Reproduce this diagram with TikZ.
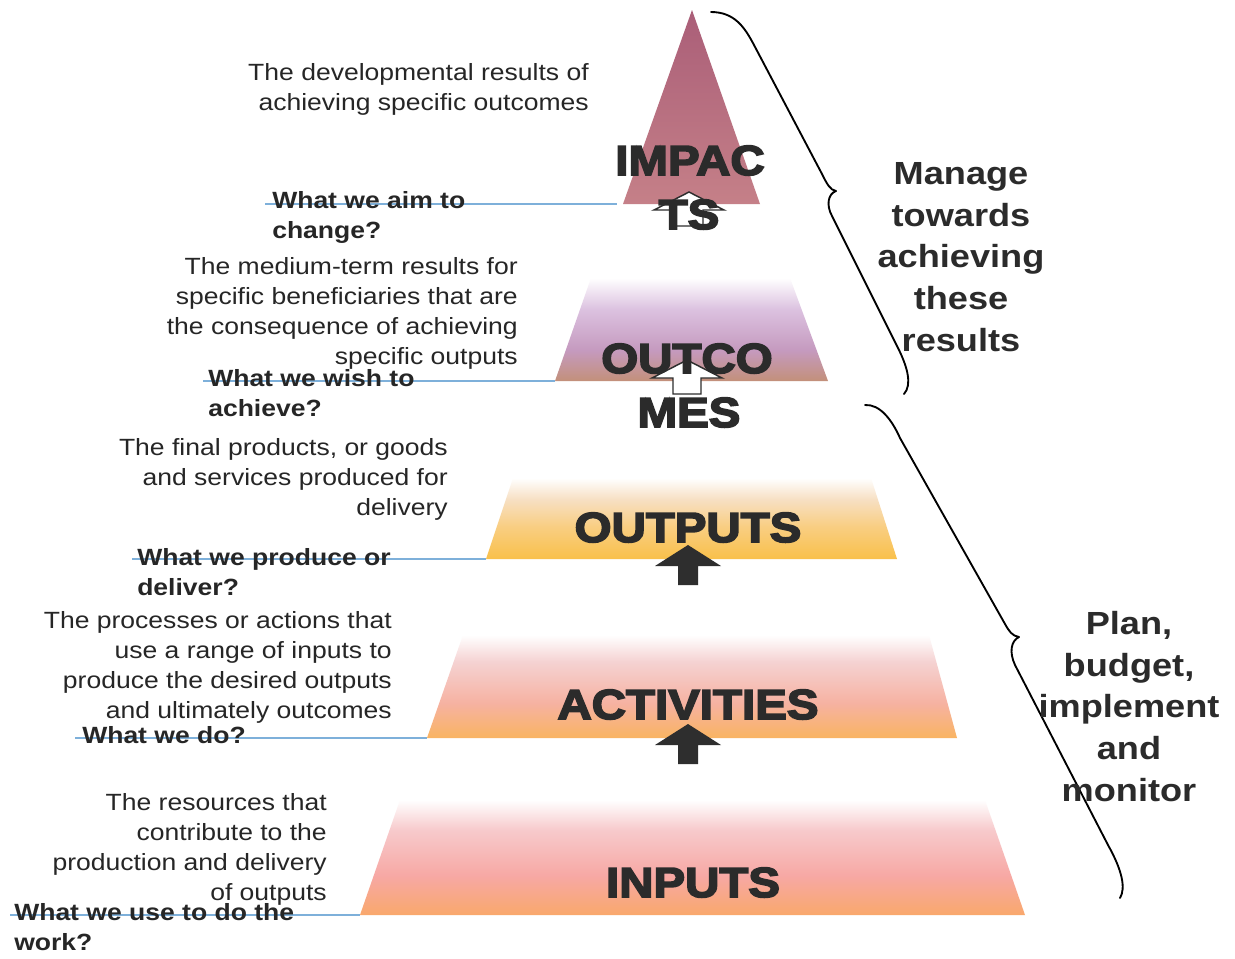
\documentclass[tikz,border=0pt]{standalone}
\usepackage{fontspec}
\setmainfont{Liberation Sans}[FakeStretch=1.13]
\newfontface\heavyfont{Liberation Sans Bold}[FakeStretch=1.13, FakeBold=4]
\definecolor{txt}{HTML}{262626}
\definecolor{heavytxt}{HTML}{2B2B2B}
\definecolor{qline}{HTML}{7EB0DA}
\definecolor{arrowdark}{HTML}{2E2E2E}
\definecolor{impB}{HTML}{C58088}
\definecolor{impT}{HTML}{AA5E78}
\definecolor{ocB}{HTML}{C3907A}
\definecolor{ocM}{HTML}{C59ABF}
\definecolor{ocU}{HTML}{DCC2E0}
\definecolor{opB}{HTML}{F9C04A}
\definecolor{opM}{HTML}{F9CE82}
\definecolor{opU}{HTML}{F7E0C4}
\definecolor{acB}{HTML}{F9B462}
\definecolor{acM}{HTML}{F6B2A2}
\definecolor{acU}{HTML}{F5D2D2}
\definecolor{inB}{HTML}{F9A86C}
\definecolor{inM}{HTML}{F7A8A4}
\definecolor{inU}{HTML}{F7CACC}
\pgfdeclareverticalshading{shImpact}{100bp}{color(0bp)=(impB); color(25bp)=(impB); color(75bp)=(impT); color(100bp)=(impT)}
\pgfdeclareverticalshading{shOutcomes}{100bp}{color(0bp)=(ocB); color(25bp)=(ocB); color(40bp)=(ocM); color(60bp)=(ocU); color(75bp)=(white); color(100bp)=(white)}
\pgfdeclareverticalshading{shOutputs}{100bp}{color(0bp)=(opB); color(25bp)=(opB); color(45bp)=(opM); color(62bp)=(opU); color(75bp)=(white); color(100bp)=(white)}
\pgfdeclareverticalshading{shActivities}{100bp}{color(0bp)=(acB); color(25bp)=(acB); color(42bp)=(acM); color(62bp)=(acU); color(75bp)=(white); color(100bp)=(white)}
\pgfdeclareverticalshading{shInputs}{100bp}{color(0bp)=(inB); color(25bp)=(inB); color(42bp)=(inM); color(62bp)=(inU); color(75bp)=(white); color(100bp)=(white)}
\tikzset{
  desc/.style={font=\fontsize{17.6pt}{22.5pt}\selectfont, text=txt, align=right, inner sep=0pt, anchor=north east},
  quest/.style={font=\bfseries\fontsize{17.6pt}{23pt}\selectfont, text=txt, align=left, inner sep=0pt, anchor=north west},
  biglabel/.style={font=\heavyfont\fontsize{31.5pt}{36pt}\selectfont, text=heavytxt, inner sep=0pt, anchor=base},
  sidelabel/.style={font=\bfseries\fontsize{24pt}{31.3pt}\selectfont, text=heavytxt, align=center, inner sep=0pt, anchor=north},
  qconn/.style={draw=qline, line width=1.1pt},
  bracestyle/.style={draw=black, line width=1.4pt, line cap=round, line join=round},
  blackarrow/.pic={\fill[arrowdark] (0,0) -- (33,21) -- (10,21) -- (10,40) -- (-10,40) -- (-10,21) -- (-33,21) -- cycle;},
  whitearrow/.pic={\filldraw[fill=white, draw=arrowdark, line width=1.1pt, line join=miter] (0,0) -- (35,18) -- (14,18) -- (14,34) -- (-14,34) -- (-14,18) -- (-35,18) -- cycle;}
}
\begin{document}
\begin{tikzpicture}[x=0.75pt, y=-0.75pt]
\useasboundingbox[fill=white] (0,0) rectangle (1235,958);

% pyramid layer corners
\coordinate (impA) at (692,10);
\coordinate (impBL) at (623,204);
\coordinate (impBR) at (760,204);
\coordinate (ocTL) at (591,278);
\coordinate (ocTR) at (790,278);
\coordinate (ocBL) at (555,381);
\coordinate (ocBR) at (828,381);
\coordinate (opTL) at (513,478);
\coordinate (opTR) at (871,478);
\coordinate (opBL) at (486,559);
\coordinate (opBR) at (897,559);
\coordinate (acTL) at (463,635);
\coordinate (acTR) at (929,635);
\coordinate (acBL) at (427,738);
\coordinate (acBR) at (957,738);
\coordinate (inTL) at (400,800);
\coordinate (inTR) at (985,800);
\coordinate (inBL) at (360,915);
\coordinate (inBR) at (1025,915);

\shade[shading=shImpact] (impA) -- (impBR) -- (impBL) -- cycle;
\shade[shading=shOutcomes] (ocTL) -- (ocTR) -- (ocBR) -- (ocBL) -- cycle;
\shade[shading=shOutputs] (opTL) -- (opTR) -- (opBR) -- (opBL) -- cycle;
\shade[shading=shActivities] (acTL) -- (acTR) -- (acBR) -- (acBL) -- cycle;
\shade[shading=shInputs] (inTL) -- (inTR) -- (inBR) -- (inBL) -- cycle;

% question connectors
\coordinate (q1s) at (265,204);
\coordinate (q1e) at (617,204);
\coordinate (q2s) at (203,381);
\coordinate (q3s) at (132,559);
\coordinate (q4s) at (75,738);
\coordinate (q5s) at (10,915);
\draw[qconn] (q1s) -- (q1e);
\draw[qconn] (q2s) -- (ocBL);
\draw[qconn] (q3s) -- (opBL);
\draw[qconn] (q4s) -- (acBL);
\draw[qconn] (q5s) -- (inBL);

% layer labels and arrows
\node[biglabel] (impact1) at (690,175) {IMPAC};
\pic at (689,192) {whitearrow};
\node[biglabel] (impact2) at (689,229) {TS};
\pic at (687,360) {whitearrow};
\node[biglabel] (outco1) at (687,373) {OUTCO};
\node[biglabel] (outco2) at (689,427) {MES};
\node[biglabel] (outputs) at (688,542) {OUTPUTS};
\pic at (688,545) {blackarrow};
\node[biglabel] (activities) at (688,719) {ACTIVITIES};
\pic at (688,724) {blackarrow};
\node[biglabel] (inputs) at (693,897) {INPUTS};

% descriptions
\node[desc] (d1) at (589,63) {The developmental results of\\achieving specific outcomes};
\node[desc] (d2) at (518,257) {The medium-term results for\\specific beneficiaries that are\\the consequence of achieving\\specific outputs};
\node[desc] (d3) at (448,438) {The final products, or goods\\and services produced for\\delivery};
\node[desc] (d4) at (392,611) {The processes or actions that\\use a range of inputs to\\produce the desired outputs\\and ultimately outcomes};
\node[desc] (d5) at (327,793) {The resources that\\contribute to the\\production and delivery\\of outputs};

% questions
\node[quest] (q1) at (272,191) {What we aim to\\change?};
\node[quest] (q2) at (208,369) {What we wish to\\achieve?};
\node[quest] (q3) at (137,548) {What we produce or\\deliver?};
\node[quest] (q4) at (82,726) {What we do?};
\node[quest] (q5) at (14,903) {What we use to do the\\work?};

% braces
\draw[bracestyle] (711,12) .. controls (735,12) and (745,28) .. (754,45) -- (822,174) .. controls (827,184) and (830,190) .. (836,191) .. controls (828,194) and (826,205) .. (832,216) -- (898,348) .. controls (908,368) and (912,385) .. (904,394);
\draw[bracestyle] (865,405) .. controls (880,404) and (892,420) .. (900,438) -- (1005,624) .. controls (1009,631) and (1012,636) .. (1019,637) .. controls (1011,641) and (1009,652) .. (1015,665) -- (1108,845) .. controls (1122,870) and (1126,888) .. (1120,898);

% side labels
\node[sidelabel] (manage) at (961,162) {Manage\\towards\\achieving\\these\\results};
\node[sidelabel] (plan) at (1129,611) {Plan,\\budget,\\implement\\and\\monitor};
\end{tikzpicture}
\end{document}
